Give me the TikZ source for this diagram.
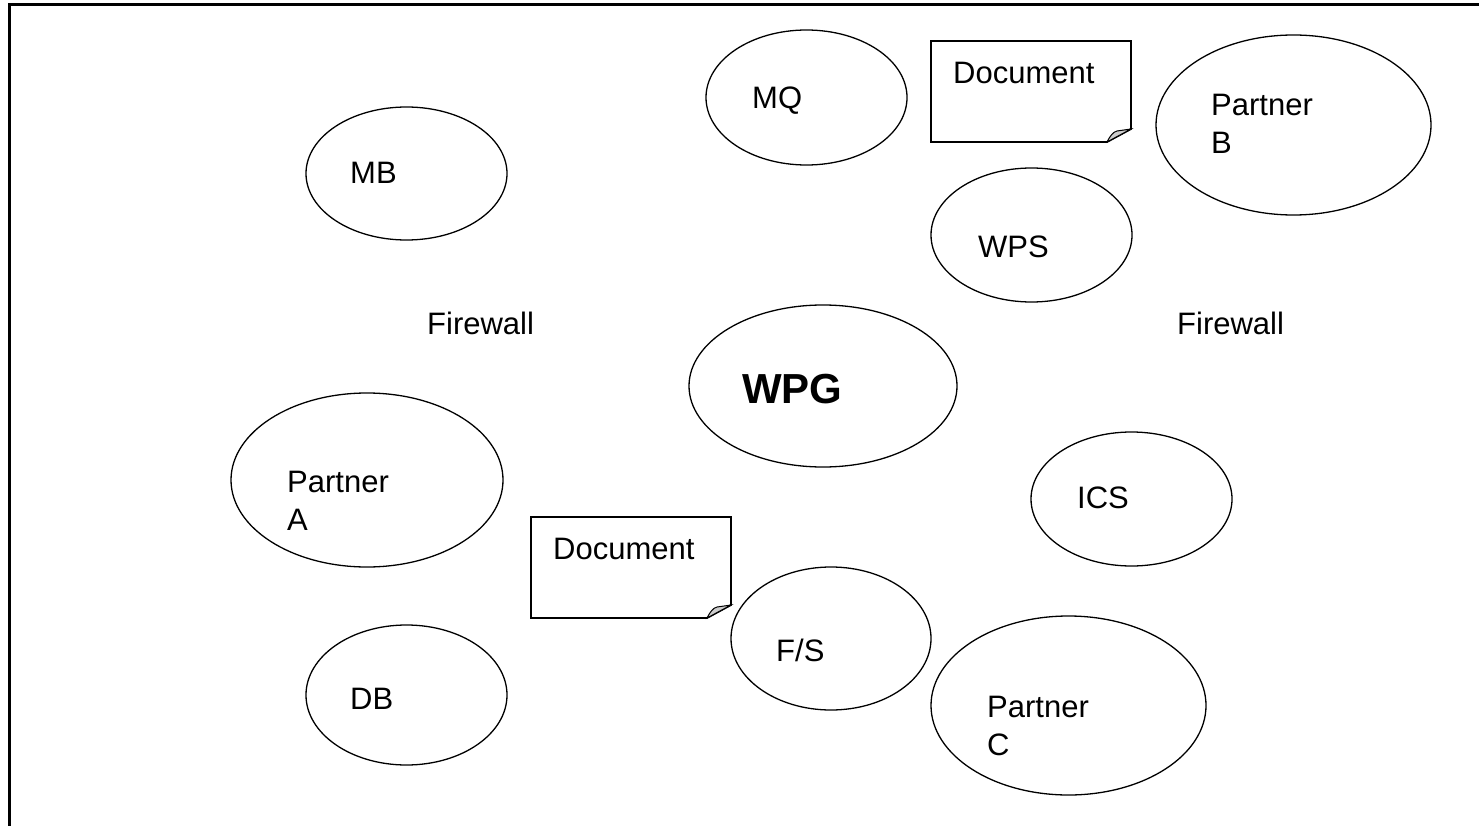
\documentclass[tikz,border=0pt]{standalone}
\usepackage{fontspec}
\setmainfont{Liberation Sans}
\usetikzlibrary{shapes.geometric}
\begin{document}
\begin{tikzpicture}[x=1pt,y=-1pt,
  oval/.style={draw,ellipse,line width=1.3pt,inner sep=0pt},
  lbl/.style={anchor=base west,inner sep=0pt,font=\fontsize{31}{38}\selectfont,align=left},
  bold/.style={anchor=base west,inner sep=0pt,font=\fontsize{42}{50}\selectfont\bfseries},
  docline/.style={line width=1.8pt,line join=miter}]
\useasboundingbox (0,0) rectangle (1479,826);
\fill[white] (0,0) rectangle (1479,826);
% frame
\draw[line width=2.5pt] (9.5,830) -- (9.5,4.5) -- (1485,4.5);

% ellipses
\node[oval,minimum width=201pt,minimum height=133pt] (mb) at (406.5,173.5) {};
\node[oval,minimum width=201pt,minimum height=135pt] (mq) at (806.5,97.5) {};
\node[oval,minimum width=275pt,minimum height=180pt] (pb) at (1293.5,125) {};
\node[oval,minimum width=201pt,minimum height=134pt] (wps) at (1031.5,235) {};
\node[oval,minimum width=268pt,minimum height=162pt] (wpg) at (823,386) {};
\node[oval,minimum width=272pt,minimum height=174pt] (pa) at (367,480) {};
\node[oval,minimum width=201pt,minimum height=134pt] (ics) at (1131.5,499) {};
\node[oval,minimum width=200pt,minimum height=143pt] (fs) at (831,638.5) {};
\node[oval,minimum width=201pt,minimum height=140pt] (db) at (406.5,695) {};
\node[oval,minimum width=275pt,minimum height=179pt] (pc) at (1068.5,705.5) {};

% documents
\draw[docline] (931,41) -- (1131,41) -- (1131,129) -- (1107,142) -- (931,142) -- cycle;
\draw[line width=1pt,fill=gray!40] (1107,142) .. controls (1110,136) and (1113,132) .. (1117,131) -- (1131,129) -- cycle;
\draw[docline] (531,517) -- (731,517) -- (731,605) -- (707,618) -- (531,618) -- cycle;
\draw[line width=1pt,fill=gray!40] (707,618) .. controls (710,612) and (713,608) .. (717,607) -- (731,605) -- cycle;

% texts
\node[lbl] (tmb) at (350,184) {MB};
\node[lbl] (tmq) at (752,109) {MQ};
\node[lbl] (tdoc1) at (953,84) {Document};
\node[lbl] (tpb) at (1211,154) {Partner\\B};
\node[lbl] (twps) at (978,258) {WPS};
\node[lbl] (tfw1) at (427,334) {Firewall};
\node[lbl] (tfw2) at (1177,334) {Firewall};
\node[bold] (twpg) at (742,403) {WPG};
\node[lbl] (tpa) at (287,530) {Partner\\A};
\node[lbl] (tics) at (1077,508) {ICS};
\node[lbl] (tdoc2) at (553,559) {Document};
\node[lbl] (tfs) at (776,661) {F/S};
\node[lbl] (tdb) at (350,709) {DB};
\node[lbl] (tpc) at (987,755) {Partner\\C};
\end{tikzpicture}
\end{document}
